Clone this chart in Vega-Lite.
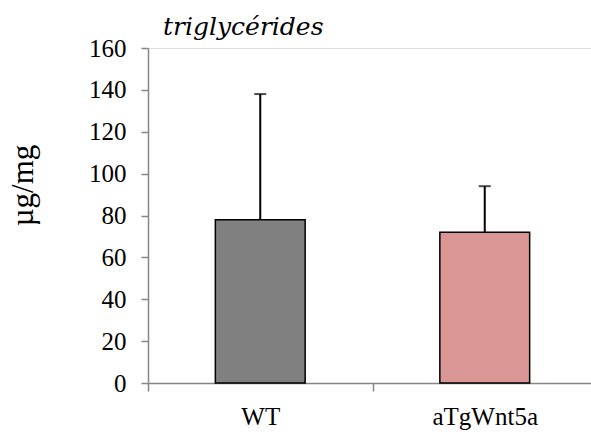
{
  "$schema": "https://vega.github.io/schema/vega-lite/v6.json",
  "autosize": {"type": "none"},
  "padding": {"left": 148, "top": 48, "right": 0, "bottom": 51},
  "width": 449,
  "height": 335,
  "background": "white",
  "title": {
    "text": "triglycérides",
    "font": "DejaVu Serif",
    "fontStyle": "oblique",
    "fontWeight": "normal",
    "fontSize": 25,
    "color": "black",
    "anchor": "start",
    "frame": "group",
    "dx": 15,
    "dy": 14,
    "offset": 10
  },
  "data": {
    "values": [
      {"group": "WT", "mean": 78, "upper": 138},
      {"group": "aTgWnt5a", "mean": 72, "upper": 94}
    ]
  },
  "encoding": {
    "x": {
      "field": "group",
      "type": "nominal",
      "sort": ["WT", "aTgWnt5a"],
      "scale": {"paddingInner": 0, "paddingOuter": 0},
      "axis": {
        "title": null,
        "labelAngle": 0,
        "labelFont": "Liberation Serif",
        "labelFontSize": 25,
        "labelColor": "black",
        "labelPadding": 13,
        "tickBand": "extent",
        "tickSize": 8,
        "tickColor": "#868686",
        "tickWidth": 1.5,
        "domainColor": "#868686",
        "domainWidth": 1.5,
        "grid": false
      }
    }
  },
  "layer": [
    {
      "mark": {"type": "bar", "width": {"band": 0.4}, "stroke": "black", "strokeWidth": 1.5},
      "encoding": {
        "y": {
          "field": "mean",
          "type": "quantitative",
          "scale": {"domain": [0, 160], "nice": false},
          "axis": {
            "title": "µg/mg",
            "titleFont": "Liberation Serif",
            "titleFontSize": 31,
            "titleFontWeight": "normal",
            "titleColor": "black",
            "titleX": -125,
            "titleY": 137,
            "titleAngle": -90,
            "titleAlign": "center",
            "titleBaseline": "middle",
            "values": [0, 20, 40, 60, 80, 100, 120, 140, 160],
            "labelFont": "Liberation Serif",
            "labelFontSize": 25,
            "labelColor": "black",
            "labelPadding": 15,
            "tickSize": 7,
            "tickColor": "#868686",
            "tickWidth": 1.5,
            "domainColor": "#868686",
            "domainWidth": 1.5,
            "grid": false
          }
        },
        "color": {
          "field": "group",
          "type": "nominal",
          "scale": {"domain": ["WT", "aTgWnt5a"], "range": ["#808080", "#D99694"]},
          "legend": null
        }
      }
    },
    {
      "mark": {"type": "rule", "color": "black", "strokeWidth": 2},
      "encoding": {
        "y": {"field": "mean", "type": "quantitative"},
        "y2": {"field": "upper"}
      }
    },
    {
      "mark": {"type": "tick", "color": "black", "thickness": 2, "size": 12},
      "encoding": {
        "y": {"field": "upper", "type": "quantitative"}
      }
    }
  ]
}
